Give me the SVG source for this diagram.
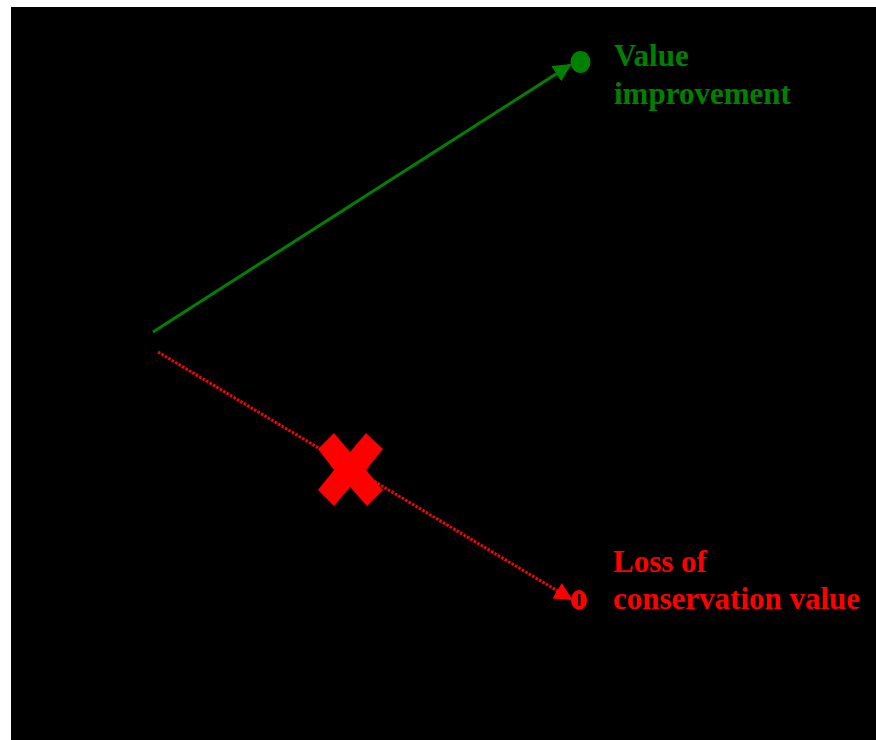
<svg xmlns="http://www.w3.org/2000/svg" width="876" height="740" viewBox="0 0 876 740">
<style>
.lbl{font-family:"Liberation Serif","Times New Roman",serif;font-weight:bold;font-size:31px}
.g{fill:#008000}
.r{fill:#ff0000}
</style>
<defs>
<marker id="ag" viewBox="0 0 10 10" refX="9" refY="5" markerWidth="6" markerHeight="6" markerUnits="strokeWidth" orient="auto"><path d="M0,0 L10,5 L0,10 z" fill="#008000"/></marker>
<marker id="ar" viewBox="0 0 10 10" refX="9" refY="5" markerWidth="6" markerHeight="6" markerUnits="strokeWidth" orient="auto"><path d="M0,0 L10,5 L0,10 z" fill="#ff0000"/></marker>
</defs>
<rect x="0" y="0" width="876" height="740" fill="#ffffff"/>
<rect x="11" y="7" width="865" height="733" fill="#000000"/>
<g id="connectors">
<line x1="153" y1="332" x2="570" y2="65" stroke="#008000" stroke-width="3" marker-end="url(#ag)"/>
<line x1="158" y1="352" x2="571" y2="599" stroke="#ff0000" stroke-width="3" stroke-dasharray="2.5 1.5" marker-end="url(#ar)"/>
</g>
<g id="value-node">
<ellipse cx="580.5" cy="62" rx="10" ry="11" class="g"/>
<text class="lbl g" x="614" y="66">Value</text>
<text class="lbl g" x="614" y="104">improvement</text>
</g>
<g id="loss-node">
<ellipse cx="579" cy="600" rx="8" ry="10" class="r"/>
<rect x="578" y="594" width="2.5" height="12" fill="#000000"/>
<text class="lbl r" x="613" y="572">Loss of</text>
<text class="lbl r" x="613" y="609">conservation value</text>
</g>
<g id="cross">
<path d="M318,449 L334,433 L350,452 L366,433 L383,449 L366,470 L383,490 L367,506 L350,487 L334,506 L318,490 L334,470 z" fill="#ff0000"/>
</g>
</svg>
